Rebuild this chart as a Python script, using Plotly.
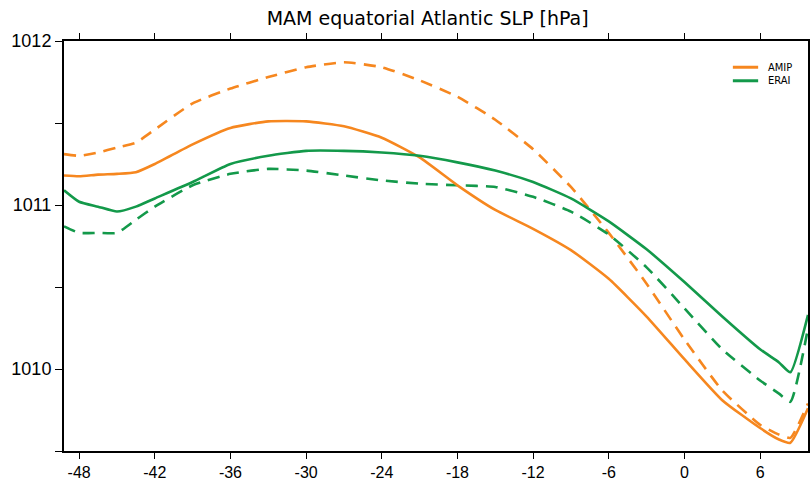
import plotly.graph_objects as go

lon = [-49.2, -48, -46.5, -45, -43.5, -42, -39, -36, -33, -30, -27, -24, -21,
       -18, -15, -12, -9, -6, -3, 0, 3, 6, 7.5, 8.4, 9.8]

amip_solid = [1011.18, 1011.175, 1011.185, 1011.19, 1011.20, 1011.25, 1011.37, 1011.47,
              1011.51, 1011.51, 1011.48, 1011.41, 1011.29, 1011.12, 1010.97, 1010.855,
              1010.725, 1010.55, 1010.32, 1010.06, 1009.81, 1009.64, 1009.57, 1009.55, 1009.76]
amip_dash = [1011.31, 1011.30, 1011.32, 1011.35, 1011.38, 1011.46, 1011.62, 1011.71,
             1011.78, 1011.84, 1011.87, 1011.84, 1011.76, 1011.66, 1011.52, 1011.34,
             1011.11, 1010.83, 1010.52, 1010.18, 1009.87, 1009.66, 1009.60, 1009.58, 1009.79]
erai_solid = [1011.09, 1011.02, 1010.99, 1010.96, 1010.99, 1011.04, 1011.14, 1011.25,
              1011.30, 1011.33, 1011.33, 1011.32, 1011.30, 1011.26, 1011.21, 1011.14,
              1011.04, 1010.90, 1010.73, 1010.53, 1010.32, 1010.12, 1010.04, 1009.98, 1010.33]
erai_dash = [1010.87, 1010.83, 1010.83, 1010.83, 1010.91, 1010.99, 1011.12, 1011.19,
             1011.22, 1011.21, 1011.18, 1011.15, 1011.13, 1011.12, 1011.11, 1011.05,
             1010.96, 1010.82, 1010.62, 1010.37, 1010.12, 1009.93, 1009.85, 1009.80, 1010.25]

xtick_vals = [-48, -42, -36, -30, -24, -18, -12, -6, 0, 6]
xtick_text = ["-48", "-42", "-36", "-30", "-24", "-18", "-12", "-6", "0", "6"]

legend_names = ["AMIP", "ERAI"]

ORANGE = "#F6871F"
GREEN = "#13994A"
colors = [ORANGE, GREEN]

fig = go.Figure()
fig.add_trace(go.Scatter(x=lon, y=amip_dash, mode="lines", name="AMIP (dashed)", showlegend=False,
                         line=dict(color=ORANGE, width=2.6, dash="12px,8px", shape="spline", smoothing=0.5)))
fig.add_trace(go.Scatter(x=lon, y=erai_dash, mode="lines", name="ERAI (dashed)", showlegend=False,
                         line=dict(color=GREEN, width=2.6, dash="12px,8px", shape="spline", smoothing=0.5)))
fig.add_trace(go.Scatter(x=lon, y=amip_solid, mode="lines", name="AMIP", showlegend=False,
                         line=dict(color=ORANGE, width=2.6, shape="spline", smoothing=0.5)))
fig.add_trace(go.Scatter(x=lon, y=erai_solid, mode="lines", name="ERAI", showlegend=False,
                         line=dict(color=GREEN, width=2.6, shape="spline", smoothing=0.5)))

# compact legend (line sample + label) in the upper right corner
leg_y = [0.936, 0.903]
for name, col, yy in zip(legend_names, colors, leg_y):
    fig.add_shape(type="line", xref="paper", yref="paper", x0=0.899, x1=0.933, y0=yy, y1=yy,
                  line=dict(color=col, width=3))
    fig.add_annotation(text=name, xref="paper", yref="paper", x=0.943, y=yy, xanchor="left",
                       yanchor="middle", showarrow=False,
                       font=dict(family="Liberation Sans Narrow, DejaVu Sans Condensed, Liberation Sans, sans-serif",
                                 size=11, color="black"))

y_font = dict(family="Liberation Sans, Arial, sans-serif", size=18, color="black")
x_font = dict(family="Liberation Sans, Arial, sans-serif", size=16, color="black")

fig.update_layout(
    width=810, height=483,
    margin=dict(l=64, r=2, t=41, b=32, autoexpand=False),
    paper_bgcolor="white", plot_bgcolor="white",
    showlegend=False,
    title=dict(text="MAM equatorial Atlantic SLP [hPa]", x=0.528, xanchor="center",
               y=0.962, yanchor="middle",
               font=dict(family="DejaVu Sans, sans-serif", size=19, color="black")),
    xaxis=dict(range=[-49.2, 9.8], tickmode="array", tickvals=xtick_vals, ticktext=xtick_text,
               ticks="outside", ticklen=6, tickwidth=1.2, automargin=False,
               tickcolor="black", showline=True, linecolor="black", linewidth=2, mirror="ticks",
               showgrid=False, zeroline=False, tickfont=x_font),
    yaxis=dict(range=[1009.5, 1012], tick0=1010, dtick=1, ticks="outside", ticklen=7, tickwidth=1.2,
               automargin=False,
               tickcolor="black", showline=True, linecolor="black", linewidth=2, mirror="ticks",
               showgrid=False, zeroline=False, tickfont=y_font,
               minor=dict(dtick=0.5, tick0=1009.5, ticks="outside", ticklen=7, tickcolor="black", tickwidth=1.2)),
)

fig.write_html("out.html", config={"displayModeBar": False},
               post_script="document.body.style.margin='0';document.body.style.padding='0';document.body.style.overflow='hidden';")
